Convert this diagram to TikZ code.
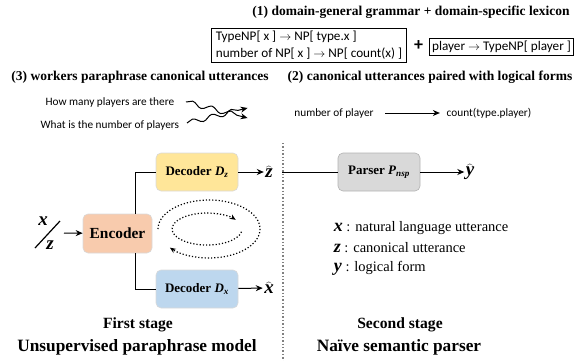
\documentclass[tikz,border=0pt]{standalone}
\usepackage{fontspec}
\setmainfont{Liberation Serif}
\setsansfont{Carlito}
\usetikzlibrary{arrows.meta,positioning,decorations.pathmorphing}
\definecolor{encfill}{HTML}{F8CBAD}
\definecolor{dzfill}{HTML}{FFE699}
\definecolor{dxfill}{HTML}{BDD7EE}
\definecolor{parsefill}{HTML}{D9D9D9}
\newcommand{\bvar}[1]{\textbf{\textit{#1}}}
\newcommand{\hatvar}[1]{$\widehat{\mbox{\bfseries\itshape #1}}$}
\begin{document}
\begin{tikzpicture}[x=1pt,y=-1pt,line width=1pt,>={Stealth[length=7pt,width=6pt]},
  heading/.style={font=\bfseries\fontsize{13.5}{16}\selectfont},
  sans/.style={font=\sffamily\fontsize{11.3}{13.5}\selectfont},
  rulebox/.style={draw,line width=0.8pt,font=\sffamily\fontsize{13.2}{17}\selectfont,align=left,inner sep=3pt},
  block/.style={rounded corners=5pt,draw=white!85!black,line width=0.6pt,minimum width=82pt,minimum height=38pt,font=\bfseries\fontsize{13}{15}\selectfont},
  sym/.style={font=\bfseries\itshape\fontsize{19}{19}\selectfont,inner sep=1pt},
  legendtext/.style={font=\fontsize{14.5}{17}\selectfont,anchor=west},
  stage/.style={font=\bfseries\fontsize{15.6}{18}\selectfont},
  stagetitle/.style={font=\bfseries\fontsize{17.3}{20}\selectfont},
  wave/.style={->,decorate,decoration={snake,amplitude=2.5pt,segment length=20pt,post length=6pt}},
  cyclearrow/.style={dotted,line width=1.2pt,-{Stealth[length=6pt,width=5pt]}}]
  \useasboundingbox (0,0) rectangle (581,361);

  \node[heading] (gram) at (411,12) {(1) domain-general grammar + domain-specific lexicon};
  \node[rulebox,inner xsep=4.5pt] (rules) at (309,45.5) {TypeNP[ x ] $\rightarrow$ NP[ type.x ]\\number of NP[ x ] $\rightarrow$ NP[ count(x) ]};
  \node[font=\sffamily\bfseries\fontsize{18}{18}\selectfont] (plus) at (418.5,46) {+};
  \node[rulebox] (lex) at (501.5,47) {player $\rightarrow$ TypeNP[ player ]};

  \node[heading] (para) at (140,77) {(3) workers paraphrase canonical utterances};
  \node[heading] (pair) at (430,77) {(2) canonical utterances paired with logical forms};
  \node[sans,anchor=east] (u1) at (178,102) {How many players are there};
  \node[sans,anchor=east] (u2) at (183,125) {What is the number of players};
  \node[sans] (canon) at (334,113) {number of player};
  \node[sans] (lf) at (489,113) {count(type.player)};
  \draw[wave] ([xshift=8pt]u1.east) -- ([xshift=-43pt,yshift=-5pt]canon.west);
  \draw[wave] ([xshift=4pt,yshift=2pt]u2.east) -- ([xshift=-43pt,yshift=5pt]canon.west);
  \draw[->] ([xshift=8pt]canon.east) -- ([xshift=-3pt]lf.west);

  \draw[gray,dotted,line width=1.4pt] (283,143) -- (283,361);

  \node[block,fill=encfill,minimum width=69pt,minimum height=39pt,font=\bfseries\fontsize{15.4}{17}\selectfont] (enc) at (117.5,233.5) {Encoder};
  \node[block,fill=dzfill] (dz) at (197,172) {Decoder \textit{D}\textsubscript{\textit{z}}};
  \node[block,fill=dxfill] (dx) at (197,289) {Decoder \textit{D}\textsubscript{\textit{x}}};
  \node[sym] (zhat) at (269,172) {\hatvar{z}};
  \node[sym] (xhat) at (269,288) {\hatvar{x}};
  \node[block,fill=parsefill,draw=gray!60] (parser) at (379,172) {Parser \textit{P}\textsubscript{\textit{nsp}}};
  \node[sym] (yhat) at (470,172) {\hatvar{y}};

  \node[sym] (inx) at (43,221) {x};
  \node[sym] (inz) at (50,245) {z};
  \draw[line width=1.2pt] (35,248) -- (60,221);
  \coordinate (in) at (64,233);
  \draw[->] (in) -- (enc);

  \draw ([xshift=18pt]enc.north) |- (dz.west);
  \draw ([xshift=18pt]enc.south) |- (dx.west);
  \draw[->] (dz) -- (zhat);
  \draw[->] (dx) -- (xhat);
  \draw (zhat.east) ++(8pt,0) -- (parser.west);
  \draw[->] (parser) -- (yhat);

  \draw[cyclearrow] (158,229) arc[start angle=-180,end angle=140,x radius=51,y radius=29];
  \draw[cyclearrow] (241.5,231.8) arc[start angle=10,end angle=325,x radius=35,y radius=16];

  \node[legendtext] (lx) at (330,228) {{\fontsize{18}{18}\selectfont\bvar{x}} : natural language utterance};
  \node[legendtext] (lz) at (330,248) {{\fontsize{18}{18}\selectfont\bvar{z}} : canonical utterance};
  \node[legendtext] (ly) at (330,268) {{\fontsize{18}{18}\selectfont\bvar{y}} : logical form};

  \node[stage] (st1) at (138,325) {First stage};
  \node[stagetitle] (m1) at (137,347) {Unsupervised paraphrase model};
  \node[stage] (st2) at (400,325) {Second stage};
  \node[stagetitle] (m2) at (399,347) {Naïve semantic parser};
\end{tikzpicture}
\end{document}
